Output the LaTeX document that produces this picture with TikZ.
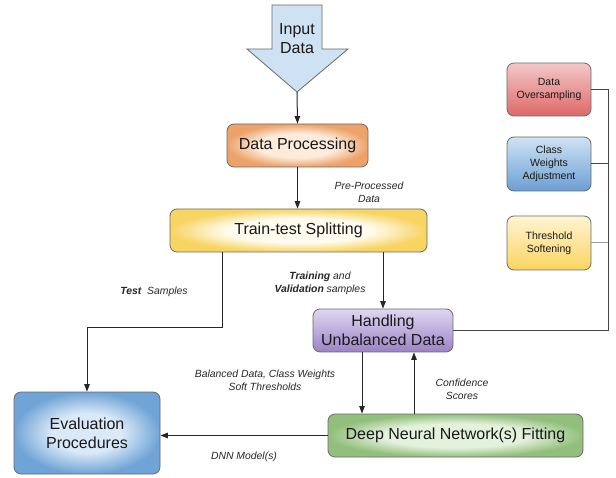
\documentclass[tikz,border=0pt]{standalone}
\usepackage{fontspec}
\setmainfont{Liberation Sans}
\usetikzlibrary{arrows.meta,calc}
\definecolor{linec}{HTML}{262626}
\definecolor{bordc}{HTML}{6A6A6A}
\definecolor{dpin}{HTML}{FDEBDC}
\definecolor{dpout}{HTML}{EDA26A}
\definecolor{ttin}{HTML}{FFFCEF}
\definecolor{ttout}{HTML}{F8D462}
\definecolor{evin}{HTML}{D9E9F7}
\definecolor{evout}{HTML}{70A4D6}
\definecolor{dnin}{HTML}{E4F1DD}
\definecolor{dnout}{HTML}{92BF7C}
\pgfdeclareradialshading{dpshade}{\pgfpoint{0bp}{0bp}}{color(0bp)=(dpin); color(14bp)=(dpin); color(25bp)=(dpout); color(50bp)=(dpout)}
\pgfdeclareradialshading{ttshade}{\pgfpoint{0bp}{0bp}}{color(0bp)=(ttin); color(14bp)=(ttin); color(25bp)=(ttout); color(50bp)=(ttout)}
\pgfdeclareradialshading{evshade}{\pgfpoint{0bp}{0bp}}{color(0bp)=(evin); color(12bp)=(evin); color(25bp)=(evout); color(50bp)=(evout)}
\pgfdeclareradialshading{dnshade}{\pgfpoint{0bp}{0bp}}{color(0bp)=(dnin); color(14bp)=(dnin); color(25bp)=(dnout); color(50bp)=(dnout)}
\tikzset{
  box/.style={draw=bordc, line width=0.8pt, rounded corners=7pt, align=center, inner sep=0pt, text=black!90},
  bigbox/.style={box, font=\fontsize{16}{19}\selectfont},
  smallbox/.style={box, font=\fontsize{10.5}{13}\selectfont, minimum width=84pt},
  lbl/.style={font=\itshape\fontsize{10.4}{12.8}\selectfont, text=black!85, align=center, inner sep=0pt},
  conn/.style={draw=linec, line width=1pt, -{Triangle[length=7.5pt,width=5.5pt]}},
  side/.style={draw=linec!85, line width=1pt},
}
\begin{document}
\begin{tikzpicture}[x=1pt,y=-1pt]
\useasboundingbox (0,0) rectangle (616,478);
% input arrow
\draw[draw=bordc, line width=0.8pt, fill={rgb,255:red,207;green,226;blue,243}]
  (272,5) -- (322,5) -- (322,49) -- (348,49) -- (297,92) -- (247,49) -- (272,49) -- cycle;
\node[align=center, font=\fontsize{16}{19}\selectfont, inner sep=0pt, text=black!90] (inp) at (297,39) {Input\\Data};
\coordinate (inptip) at (297,92);

\node[bigbox, minimum width=141pt, minimum height=43pt, shading=dpshade] (dp) at (297.5,145.5) {Data Processing};
\node[bigbox, minimum width=257pt, minimum height=43pt, shading=ttshade] (tts) at (298.5,230.5) {Train-test Splitting};
\node[bigbox, minimum width=140pt, minimum height=43pt, top color={rgb,255:red,224;green,215;blue,242}, bottom color={rgb,255:red,154;green,131;blue,197}] (hand) at (383,330.5) {Handling\\Unbalanced Data};
\node[bigbox, minimum width=255pt, minimum height=43pt, shading=dnshade] (dnn) at (455.5,435.5) {Deep Neural Network(s) Fitting};
\node[bigbox, minimum width=146pt, minimum height=82pt, shading=evshade] (eval) at (87,433) {Evaluation\\Procedures};

\node[smallbox, minimum height=53pt, top color={rgb,255:red,244;green,200;blue,200}, bottom color={rgb,255:red,222;green,104;blue,104}] (dos) at (549,89.5) {Data\\Oversampling};
\node[smallbox, minimum height=54pt, top color={rgb,255:red,207;green,226;blue,244}, bottom color={rgb,255:red,108;green,159;blue,212}] (cw) at (549,164) {Class\\Weights\\Adjustment};
\node[smallbox, minimum height=54pt, top color={rgb,255:red,255;green,244;blue,210}, bottom color={rgb,255:red,251;green,212;blue,96}] (ts) at (549,243) {Threshold\\Softening};

% connectors
\draw[conn] (inptip) -- (dp.north);
\draw[conn] (dp.south) -- (tts.north -| dp.south);
\draw[conn] (tts.south -| 222,0) -- (222,328) -- (87,328) -- (eval.north);
\draw[conn] (tts.south -| hand.north) -- (hand.north);
\draw[conn] (hand.south -| 362,0) -- (dnn.north -| 362,0);
\draw[conn] (dnn.north -| 414,0) -- (hand.south -| 414,0);
\draw[conn] (dnn.west) -- (eval.east |- dnn.west);
\coordinate (bus) at (608,330.5);
\draw[side] (dos.east) -- (dos.east -| bus) -- (bus) -- (hand.east);
\draw[side] (cw.east) -- (cw.east -| bus);
\draw[side, draw=linec!45] (ts.east) -- (ts.east -| bus);

% labels
\node[lbl] (lpp) at (369,192) {Pre-Processed\\Data};
\node[lbl] (ltest) at (154,292) {\textbf{Test}\ \ Samples};
\node[lbl] (ltrain) at (320,283.5) {\textbf{Training} and\\\textbf{Validation} samples};
\node[lbl] (lbal) at (265,380.5) {Balanced Data, Class Weights\\Soft Thresholds};
\node[lbl] (lconf) at (462,389.5) {Confidence\\Scores};
\node[lbl] (ldnn) at (244,457) {DNN Model(s)};
\end{tikzpicture}
\end{document}
